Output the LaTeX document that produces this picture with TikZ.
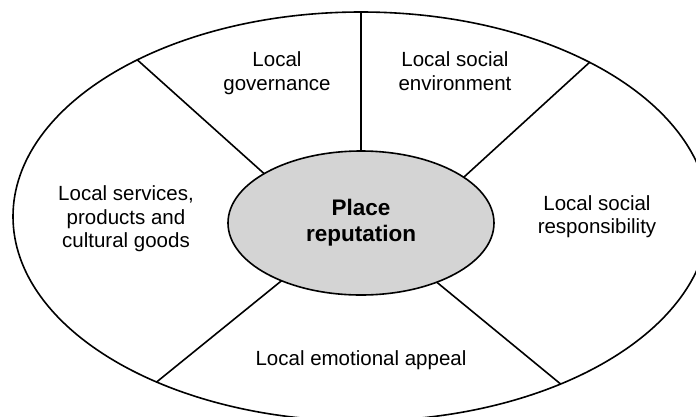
\documentclass[tikz,border=0pt]{standalone}
\usepackage{fontspec}
\setmainfont{Liberation Sans}
\usetikzlibrary{shapes.geometric}
\definecolor{hubgray}{RGB}{212,212,212}
\begin{document}
\begin{tikzpicture}[x=1pt,y=-1pt,
  rim/.style={ellipse, draw, line width=1.6pt, outer sep=0pt, inner sep=0pt,
              minimum width=696pt, minimum height=409pt},
  hub/.style={ellipse, draw, fill=hubgray, line width=1.6pt, outer sep=0pt, inner sep=0pt,
              minimum width=266pt, minimum height=144pt, align=center,
              font=\fontsize{22.5}{25.7}\selectfont\bfseries},
  spoke/.style={line width=1.6pt},
  sector/.style={align=center, inner sep=0pt, font=\fontsize{20.5}{23.5}\selectfont}]
% page frame; the outer ring runs past the right and bottom edges
\clip (0,0) rectangle (696,416);

% outer ring and central hub
\node[rim] (outer) at (361,216.5) {};
\node[hub] (inner) at (361,223) {Place\\reputation};

% spokes dividing the ring into five sectors
\draw[spoke] (inner.90)    -- (outer.90);
\draw[spoke] (inner.153)   -- (outer.145.9);
\draw[spoke] (inner.24.3)  -- (outer.34.1);
\draw[spoke] (inner.216.8) -- (outer.219.2);
\draw[spoke] (inner.322.1) -- (outer.320.9);

% sector captions
\node[sector] (gov) at (277,73.3)  {Local\\governance};
\node[sector] (env) at (455,71.4)  {Local social\\environment};
\node[sector] (srv) at (126,219)   {Local services,\\products and\\cultural goods};
\node[sector] (csr) at (597,216.7) {Local social\\responsibility};
\node[sector, anchor=base] (emo) at (361,365) {Local emotional appeal};
\end{tikzpicture}
\end{document}
